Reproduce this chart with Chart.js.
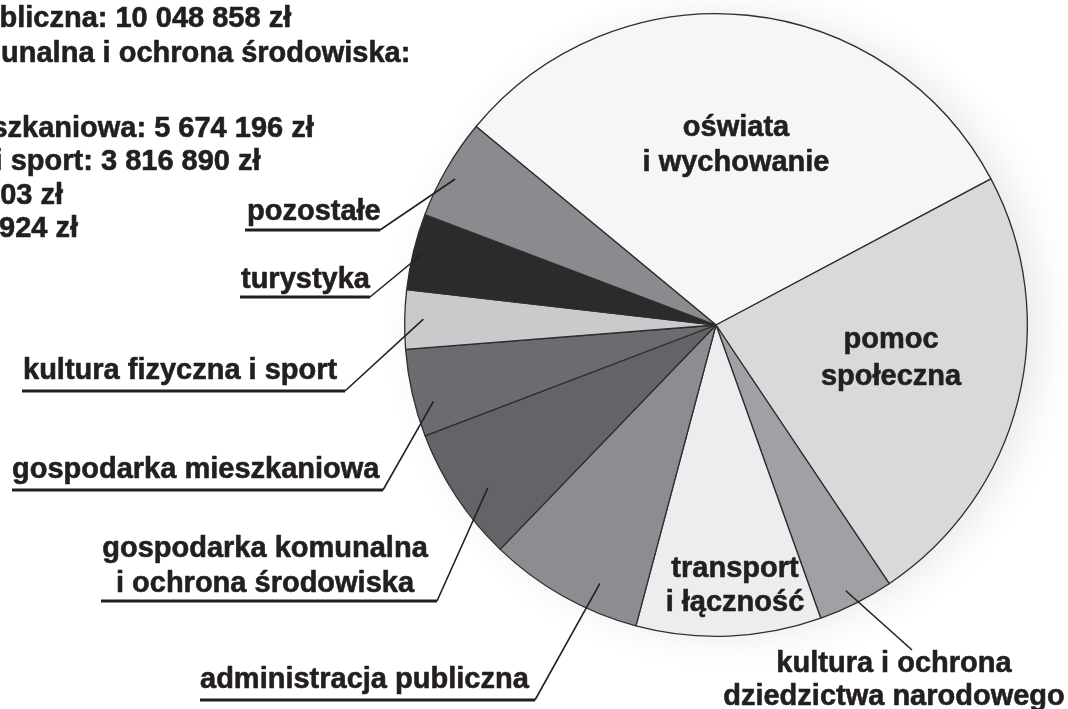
<!DOCTYPE html>
<html lang="pl">
<head>
<meta charset="utf-8">
<title>Wydatki budżetu gminy</title>
<script src="https://cdn.jsdelivr.net/npm/chart.js@4.4.1/dist/chart.umd.min.js"></script>
<style>
  html, body { margin: 0; padding: 0; background: #fff; }
  #wrap { position: relative; width: 1068px; height: 709px; overflow: hidden; }
</style>
</head>
<body>
<div id="wrap"><canvas id="pieChart"></canvas></div>
<script>
// ===== DATA =====
const categories = [
  "oświata i wychowanie",
  "pomoc społeczna",
  "kultura i ochrona dziedzictwa narodowego",
  "transport i łączność",
  "administracja publiczna",
  "gospodarka komunalna i ochrona środowiska",
  "gospodarka mieszkaniowa",
  "kultura fizyczna i sport",
  "turystyka",
  "pozostałe"
];
// zł (three values read from the note, the rest)
const expenses = [38960000, 29170000, 4900000, 11980000, 10048858, 8750000, 5674196, 3816890, 4930000, 6530000];
const sliceColors = ["#f6f6f7", "#d8d9db", "#9fa1a4", "#ecedee", "#8b8d90", "#636467", "#6b6c6f", "#c9cacc", "#2d2a2b", "#8a8b8e"];

// ===== HELPERS =====
function fmt(v) {
  return String(v).replace(/\B(?=(\d{3})+(?!\d))/g, ' ');
}

// note in the top-left corner (cut by the page edge)
const noteLines = [
  categories[4] + ": " + fmt(expenses[4]) + " zł",
  categories[5] + ":",
  "",
  categories[6] + ": " + fmt(expenses[6]) + " zł",
  categories[7] + ": " + fmt(expenses[7]) + " zł"
];
const noteBaselines = [27, 62, 100, 137, 170];
const noteTails = [["03 zł", 63, 204], ["924 zł", 78, 237]];

// labels inside the slices
const innerLabels = [
  { lines: ["oświata", "i wychowanie"], x: 736, y: [136, 171] },
  { lines: ["pomoc", "społeczna"], x: 891, y: [348, 385] },
  { lines: ["transport", "i łączność"], x: 735, y: [577, 611] },
  { lines: ["kultura i ochrona", "dziedzictwa narodowego"], x: 894, y: [672, 705] }
];

// labels outside with underline + leader line to the slice
const outerLabels = [
  { idx: 9, lines: ["pozostałe"], align: "left", x: 247, y: [220], ul: [245, 380, 230], af: 0.45, rf: 0.96 },
  { idx: 8, lines: ["turystyka"], align: "left", x: 241, y: [288], ul: [240, 370, 297], af: 0.5, rf: 0.97 },
  { idx: 7, lines: ["kultura fizyczna i sport"], align: "left", x: 23, y: [379], ul: [22, 345, 391], af: 0.51, rf: 0.94 },
  { idx: 6, lines: ["gospodarka mieszkaniowa"], align: "left", x: 12, y: [478], ul: [12, 383, 490], af: 0.35, rf: 0.94 },
  { idx: 5, lines: ["gospodarka komunalna", "i ochrona środowiska"], align: "center", x: 265, y: [557, 592], ul: [101, 437, 601], af: 0.42, rf: 0.9 },
  { idx: 4, lines: ["administracja publiczna"], align: "left", x: 200, y: [688], ul: [200, 535, 700], af: 0.32, rf: 0.91 },
  { idx: 2, lines: [], start: [912, 650], af: 0.55, rf: 0.95 }
];

// ===== SOFT SHADOW UNDER THE PIE (scan look) =====
const shadowPlugin = {
  id: 'pieShadow',
  beforeDatasetsDraw(chart) {
    const arc = chart.getDatasetMeta(0).data[0];
    if (!arc) return;
    const p = arc.getProps(['x', 'y', 'outerRadius'], true);
    const ctx = chart.ctx;
    ctx.save();
    ctx.shadowColor = 'rgba(0, 0, 0, 0.09)';
    ctx.shadowBlur = 40;
    ctx.shadowOffsetX = 14;
    ctx.fillStyle = '#f3f3f3';
    ctx.beginPath();
    ctx.arc(p.x, p.y, p.outerRadius, 0, Math.PI * 2);
    ctx.fill();
    ctx.restore();
  }
};

// bold text, a touch heavier like the printed original
function boldText(ctx, t, x, y) {
  ctx.fillText(t, x, y);
  ctx.lineWidth = 0.6;
  ctx.strokeText(t, x, y);
}

// ===== LABEL PLUGIN =====
const labelPlugin = {
  id: 'pieLabels',
  afterDatasetsDraw(chart) {
    const ctx = chart.ctx;
    const arcs = chart.getDatasetMeta(0).data;
    ctx.save();
    ctx.font = 'bold 29px "Liberation Sans", Arial, sans-serif';
    ctx.fillStyle = '#231f20';
    ctx.strokeStyle = '#231f20';
    ctx.lineJoin = 'round';
    ctx.textBaseline = 'alphabetic';

    // note
    ctx.textAlign = 'left';
    noteLines.forEach((t, i) => boldText(ctx, t, -231, noteBaselines[i]));
    ctx.textAlign = 'right';
    noteTails.forEach(t => boldText(ctx, t[0], t[1], t[2]));

    // inner labels
    ctx.textAlign = 'center';
    innerLabels.forEach(l => {
      l.lines.forEach((t, i) => boldText(ctx, t, l.x, l.y[i]));
    });

    // outer labels
    outerLabels.forEach(l => {
      ctx.textAlign = l.align || 'left';
      l.lines.forEach((t, i) => boldText(ctx, t, l.x, l.y[i]));
      let sx, sy;
      if (l.ul) {
        ctx.lineWidth = 3;
        ctx.beginPath();
        ctx.moveTo(l.ul[0], l.ul[2]);
        ctx.lineTo(l.ul[1], l.ul[2]);
        ctx.stroke();
        sx = l.ul[1];
        sy = l.ul[2];
      } else {
        sx = l.start[0];
        sy = l.start[1];
      }
      const arc = arcs[l.idx];
      const p = arc.getProps(['x', 'y', 'startAngle', 'endAngle', 'outerRadius'], true);
      const a = p.startAngle + (p.endAngle - p.startAngle) * l.af;
      const ex = p.x + Math.cos(a) * p.outerRadius * l.rf;
      const ey = p.y + Math.sin(a) * p.outerRadius * l.rf;
      ctx.lineWidth = 1.6;
      ctx.beginPath();
      ctx.moveTo(sx, sy);
      ctx.lineTo(ex, ey);
      ctx.stroke();
    });
    ctx.restore();
  }
};

// ===== PIE CHART =====
const pieCtx = document.getElementById("pieChart").getContext("2d");

new Chart(pieCtx, {
  type: "pie",
  data: {
    labels: categories,
    datasets: [{
      data: expenses,
      backgroundColor: sliceColors,
      borderColor: '#2e2e2f',
      borderWidth: 1.3
    }]
  },
  options: {
    responsive: true,
    maintainAspectRatio: false,
    animation: false,
    rotation: -50.4,
    layout: {
      padding: { top: 13, bottom: 72, left: 404, right: 40 }
    },
    plugins: {
      legend: { display: false },
      tooltip: { enabled: false }
    }
  },
  plugins: [shadowPlugin, labelPlugin]
});
</script>
</body>
</html>
